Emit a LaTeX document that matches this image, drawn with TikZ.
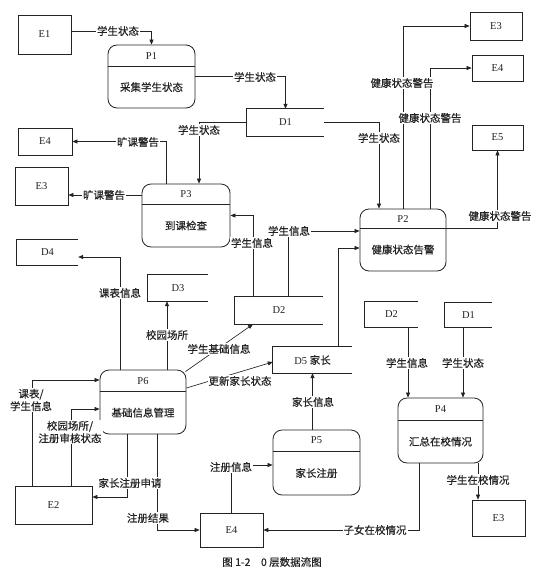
\documentclass[tikz,border=0pt]{standalone}
\usepackage{fontspec}
\setmainfont{Liberation Serif}
\newfontfamily\cjk[FakeBold=0.4]{Noto Sans CJK SC}
\usetikzlibrary{arrows.meta,calc}
\definecolor{ink}{RGB}{35,35,35}
\tikzset{
 ent/.style={draw=ink, line width=0.7pt, inner sep=0pt, text=ink, font=\fontsize{10.5}{12}\selectfont},
 proc/.style={draw=ink, line width=0.8pt, rounded corners=9pt, inner sep=0pt},
 store/.style={inner sep=0pt, text=ink, font=\fontsize{10.5}{12}\selectfont},
 flow/.style={draw=ink, line width=0.65pt, -{Triangle[length=5pt,width=4pt]}},
 lbl/.style={fill=white, inner sep=1pt, text=ink, align=center, font=\cjk\fontsize{10.5}{12.5}\selectfont},
 idt/.style={inner sep=0pt, text=ink, font=\fontsize{10.5}{12}\selectfont},
 nm/.style={inner sep=0pt, text=ink, font=\cjk\fontsize{10.5}{12}\selectfont}
}
\newcommand\mkproc[8]{%
 \node[proc, minimum width=#4pt, minimum height=#5pt] (#1) at (#2,#3) {};
 \draw[ink, line width=0.7pt] ($(#1.north west)+(0,#6)$) -- ($(#1.north east)+(0,#6)$);
 \node[idt] (#1id) at ($(#1.north)+(0,{#6/2})$) {#7};
 \node[nm] (#1nm) at ($(#1.north)+(0,{(#6+#5)/2})$) {#8};
}
\newcommand\storesides[1]{\draw[ink, line width=0.7pt] (#1.north east) -- (#1.north west) -- (#1.south west) -- (#1.south east);}
\begin{document}
\begin{tikzpicture}[x=1pt, y=-1pt]
\useasboundingbox[fill=white] (0,0) rectangle (545,581);
% external entities
\node[ent, minimum width=53pt, minimum height=39pt] (E1) at (44.5,34.5) {E1};
\node[ent, minimum width=52pt, minimum height=28pt] (E3a) at (496,26) {E3};
\node[ent, minimum width=51pt, minimum height=26pt] (E4a) at (497.5,68) {E4};
\node[ent, minimum width=51pt, minimum height=25pt] (E5) at (497.5,137.5) {E5};
\node[ent, minimum width=54pt, minimum height=27pt] (E4b) at (45,141.5) {E4};
\node[ent, minimum width=53pt, minimum height=38pt] (E3b) at (41.5,186) {E3};
\node[ent, minimum width=77pt, minimum height=38pt] (E2) at (53.5,505) {E2};
\node[ent, minimum width=63pt, minimum height=34pt] (E4c) at (231.5,530) {E4};
\node[ent, minimum width=53pt, minimum height=36pt] (E3c) at (498.5,518) {E3};
% processes
\mkproc{P1}{151.5}{76.5}{87}{63}{22}{P1}{采集学生状态}
\mkproc{P3}{186}{215.5}{88}{63}{21}{P3}{到课检查}
\mkproc{P2}{403}{240}{86}{62}{20}{P2}{健康状态告警}
\mkproc{P6}{143}{402}{86}{64}{22}{P6}{基础信息管理}
\mkproc{P5}{316.5}{462.5}{87}{65}{22}{P5}{家长注册}
\mkproc{P4}{440.5}{430.5}{85}{65}{23}{P4}{汇总在校情况}
% data stores
\node[store, minimum width=77pt, minimum height=27pt] (D1) at (285.5,122.5) {D1};
\node[store, minimum width=61pt, minimum height=25pt] (D4) at (47.5,252.5) {D4};
\node[store, minimum width=60pt, minimum height=26pt] (D3) at (178,288) {D3};
\node[store, minimum width=88pt, minimum height=27pt] (D2a) at (279,310.5) {D2};
\node[store, minimum width=79pt, minimum height=26pt] (D5) at (312.5,360) {D5 {\cjk 家长}};
\node[store, minimum width=53pt, minimum height=25pt] (D2b) at (391.5,314.5) {D2};
\node[store, minimum width=47pt, minimum height=24pt] (D1b) at (468.5,315) {D1};
\storesides{D1}\storesides{D4}\storesides{D3}\storesides{D2a}\storesides{D5}\storesides{D2b}\storesides{D1b}
% flows
\draw[flow] ([yshift=3.5pt]E1.east) -| (P1.north);
\draw[flow] (P1.east) -| (D1.north);
\draw[flow] (D1.east) -| ([xshift=-24pt]P2.north);
\draw[flow] (D1.west) -| ([xshift=13pt]P3.north);
\draw[flow] ([xshift=-20pt]P3.north) |- (E4b.east);
\draw[flow] ([yshift=20.5pt]P3.west) -- ([yshift=20.5pt]P3.west -| E3b.east);
\draw[flow] (P2.north) |- (E3a.west);
\draw[flow] ([xshift=27pt]P2.north) |- (E4a.west);
\draw[flow] ([yshift=12pt]P2.east) -| (E5.south);
\draw[flow] ([xshift=9pt]D2a.north) |- ([yshift=9pt]P2.west);
\draw[flow] ([xshift=25.5pt]D5.north) |- ([yshift=-8pt]P2.west);
\draw[flow] ([xshift=-26pt]D2a.north) |- (P3.east);
\draw[flow] ([xshift=-23pt]P6.north) |- ([yshift=-4.5pt]D4.east);
\draw[flow] ([xshift=24pt]P6.north) -- ([xshift=24pt]P6.north |- D3.south);
\draw[flow] ([xshift=-1pt,yshift=-2pt]P6.north east) -- ([xshift=-26pt]D2a.south);
\draw[flow] ([yshift=14pt]P6.east) -- ([yshift=-2pt]D5.west);
\draw[flow] ([xshift=-21.5pt]E2.north) |- ([yshift=22pt]P6.west);
\draw[flow] ([xshift=17.5pt]E2.north) |- ([yshift=-7pt]P6.west);
\draw[flow] ([xshift=-16pt]P6.south) |- ([yshift=8pt]E2.east);
\draw[flow] ([xshift=14pt]P6.south) |- (E4c.west);
\draw[flow] (E4c.north) |- ([yshift=-2.5pt]P5.west);
\draw[flow] (P5.north -| D5.south) -- (D5.south);
\draw[flow] ([xshift=16.5pt]D2b.south) -- ([xshift=16.5pt]D2b.south |- P4.north);
\draw[flow] ([xshift=-5.5pt]D1b.south) -- ([xshift=-5.5pt]D1b.south |- P4.north);
\draw[flow] ([xshift=37.5pt]P4.south) -- ([xshift=37.5pt]P4.south |- E3c.north);
\draw[flow] ([xshift=-21.5pt]P4.south) |- (E4c.east);
% labels
\node[lbl] (l1) at (118,31) {学生状态};
\node[lbl] (l2) at (255,77) {学生状态};
\node[lbl] (l3) at (379,138) {学生状态};
\node[lbl] (l4) at (199,130) {学生状态};
\node[lbl] (l5) at (138,142) {旷课警告};
\node[lbl] (l6) at (104,195) {旷课警告};
\node[lbl] (l7) at (402,83) {健康状态警告};
\node[lbl] (l8) at (430,118) {健康状态警告};
\node[lbl] (l9) at (500,216) {健康状态警告};
\node[lbl] (l10) at (289,231) {学生信息};
\node[lbl] (l11) at (252,243) {学生信息};
\node[lbl] (l12) at (120,293) {课表信息};
\node[lbl] (l13) at (167,335) {校园场所};
\node[lbl] (l14) at (219,349) {学生基础信息};
\node[lbl] (l15) at (240,381) {更新家长状态};
\node[lbl] (l16) at (31,400) {课表/\\学生信息};
\node[lbl] (l17) at (70,432) {校园场所/\\注册审核状态};
\node[lbl] (l18) at (130,483) {家长注册申请};
\node[lbl] (l19) at (148,518) {注册结果};
\node[lbl] (l20) at (231,467) {注册信息};
\node[lbl] (l21) at (313,402) {家长信息};
\node[lbl] (l22) at (407,363) {学生信息};
\node[lbl] (l23) at (463,363) {学生状态};
\node[lbl] (l24) at (478,480) {学生在校情况};
\node[lbl] (l25) at (375,530) {子女在校情况};
\node[lbl] (cap) at (272,562) {图 1-2\quad 0 层数据流图};
\end{tikzpicture}
\end{document}
